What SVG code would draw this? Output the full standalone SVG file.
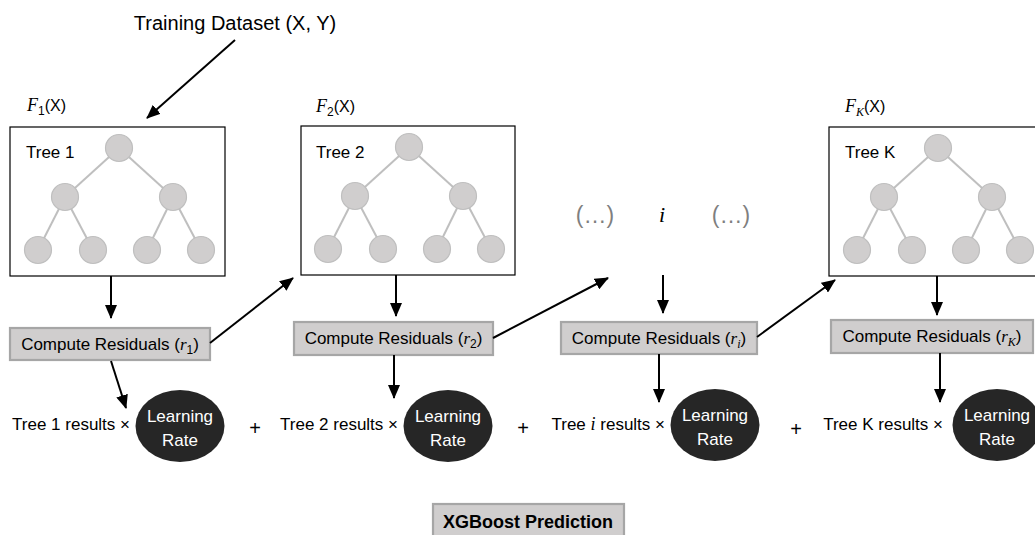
<svg xmlns="http://www.w3.org/2000/svg" xmlns:xlink="http://www.w3.org/1999/xlink" width="1035" height="535" viewBox="0 0 1035 535">
<style>
.t{font-family:"Liberation Sans",Arial,sans-serif;fill:#000}
.g{font-family:"Liberation Sans",Arial,sans-serif;fill:#7f7f7f;font-size:23px;text-anchor:middle}
.m{font-family:"Liberation Serif","Times New Roman",serif;font-style:italic}
.box{fill:#fff;stroke:#000;stroke-width:1.2}
.cr{fill:#d0cece;stroke:#a6a6a6;stroke-width:2.2}
.lr{fill:#262626}
.lrt{font-family:"Liberation Sans",Arial,sans-serif;fill:#fff;font-size:17px;text-anchor:middle}
.edge{stroke:#bfbfbf;stroke-width:2}
.nd{fill:#d0cece;stroke:#bfbfbf;stroke-width:1.2}
.ar{stroke:#000;stroke-width:2;fill:none;marker-end:url(#ah)}
.pl{font-family:"Liberation Sans",Arial,sans-serif;fill:#000;font-size:20px;text-anchor:middle}
</style>
<defs>
<marker id="ah" markerUnits="userSpaceOnUse" markerWidth="14" markerHeight="12" refX="13" refY="6" orient="auto">
<path d="M0,0 L14,6 L0,12 Z" fill="#000"/>
</marker>
<g id="treeShape">
<line class="edge" x1="109" y1="21" x2="55" y2="70"/>
<line class="edge" x1="109" y1="21" x2="163" y2="70"/>
<line class="edge" x1="55" y1="70" x2="28" y2="123"/>
<line class="edge" x1="55" y1="70" x2="83" y2="123"/>
<line class="edge" x1="163" y1="70" x2="137" y2="123"/>
<line class="edge" x1="163" y1="70" x2="191" y2="123"/>
<circle class="nd" cx="109" cy="21" r="13.5"/>
<circle class="nd" cx="55" cy="70" r="13.5"/>
<circle class="nd" cx="163" cy="70" r="13.5"/>
<circle class="nd" cx="28" cy="123" r="13.5"/>
<circle class="nd" cx="83" cy="123" r="13.5"/>
<circle class="nd" cx="137" cy="123" r="13.5"/>
<circle class="nd" cx="191" cy="123" r="13.5"/>
</g>
</defs>
<rect width="1035" height="535" fill="#fff"/>

<g id="title">
<text class="t" x="235" y="30" font-size="20" text-anchor="middle">Training Dataset (X, Y)</text>
</g>

<g id="tree1">
<text class="t" x="27" y="111" font-size="16"><tspan class="m" font-size="18">F</tspan><tspan font-size="12" dy="4">1</tspan><tspan dy="-4">(X)</tspan></text>
<rect class="box" x="10" y="127" width="215" height="149"/>
<use xlink:href="#treeShape" x="10" y="127"/>
<text class="t" x="26" y="158" font-size="17">Tree 1</text>
</g>

<g id="tree2">
<text class="t" x="316" y="112" font-size="16"><tspan class="m" font-size="18">F</tspan><tspan font-size="12" dy="4">2</tspan><tspan dy="-4">(X)</tspan></text>
<rect class="box" x="301" y="126" width="214" height="149"/>
<use xlink:href="#treeShape" x="300" y="126"/>
<text class="t" x="316" y="158" font-size="17">Tree 2</text>
</g>

<g id="treeI">
<text class="g" x="595" y="223">(…)</text>
<text class="m" x="662" y="222" font-size="22" text-anchor="middle">i</text>
<text class="g" x="731" y="223">(…)</text>
</g>

<g id="treeK">
<text class="t" x="845" y="112" font-size="16"><tspan class="m" font-size="18">F</tspan><tspan class="m" font-size="12" dy="4">K</tspan><tspan dy="-4">(X)</tspan></text>
<rect class="box" x="829" y="127" width="215" height="149"/>
<use xlink:href="#treeShape" x="829" y="127"/>
<text class="t" x="845" y="158" font-size="17">Tree K</text>
</g>

<g id="cr1">
<rect class="cr" x="10" y="328" width="200" height="32"/>
<text class="t" x="110" y="350" font-size="17" text-anchor="middle">Compute Residuals (<tspan class="m">r</tspan><tspan font-size="12" dy="4">1</tspan><tspan dy="-4">)</tspan></text>
</g>
<g id="cr2">
<rect class="cr" x="294" y="322" width="199" height="33"/>
<text class="t" x="393.5" y="344" font-size="17" text-anchor="middle">Compute Residuals (<tspan class="m">r</tspan><tspan font-size="12" dy="4">2</tspan><tspan dy="-4">)</tspan></text>
</g>
<g id="crI">
<rect class="cr" x="561" y="322" width="196" height="32"/>
<text class="t" x="659" y="344" font-size="17" text-anchor="middle">Compute Residuals (<tspan class="m">r</tspan><tspan class="m" font-size="12" dy="4">i</tspan><tspan dy="-4">)</tspan></text>
</g>
<g id="crK">
<rect class="cr" x="831" y="320" width="202" height="33"/>
<text class="t" x="932" y="342" font-size="17" text-anchor="middle">Compute Residuals (<tspan class="m">r</tspan><tspan class="m" font-size="12" dy="4">K</tspan><tspan dy="-4">)</tspan></text>
</g>

<g id="res1">
<text class="t" x="130" y="430" font-size="17" text-anchor="end">Tree 1 results ×</text>
<ellipse class="lr" cx="180" cy="426" rx="44.5" ry="36"/>
<text class="lrt" x="180" y="422">Learning</text>
<text class="lrt" x="180" y="446">Rate</text>
<text class="pl" x="255" y="435">+</text>
</g>
<g id="res2">
<text class="t" x="398" y="430" font-size="17" text-anchor="end">Tree 2 results ×</text>
<ellipse class="lr" cx="448" cy="426" rx="44.5" ry="36"/>
<text class="lrt" x="448" y="422">Learning</text>
<text class="lrt" x="448" y="446">Rate</text>
<text class="pl" x="523" y="435">+</text>
</g>
<g id="resI">
<text class="t" x="665" y="430" font-size="17" text-anchor="end">Tree <tspan class="m" font-size="18">i</tspan> results ×</text>
<ellipse class="lr" cx="715" cy="425" rx="44.5" ry="36"/>
<text class="lrt" x="715" y="421">Learning</text>
<text class="lrt" x="715" y="445">Rate</text>
<text class="pl" x="796" y="436">+</text>
</g>
<g id="resK">
<text class="t" x="943" y="430" font-size="17" text-anchor="end">Tree K results ×</text>
<ellipse class="lr" cx="997" cy="425" rx="44.5" ry="36"/>
<text class="lrt" x="997" y="421">Learning</text>
<text class="lrt" x="997" y="445">Rate</text>
</g>

<g id="prediction">
<rect class="cr" x="433" y="504" width="191" height="40"/>
<text class="t" x="528" y="528" font-size="18" font-weight="bold" text-anchor="middle">XGBoost Prediction</text>
</g>

<g id="connectors">
<line class="ar" x1="235" y1="40" x2="147" y2="118"/>
<line class="ar" x1="111" y1="276" x2="111" y2="318"/>
<line class="ar" x1="210" y1="343" x2="293" y2="278"/>
<line class="ar" x1="111" y1="361" x2="126" y2="408"/>
<line class="ar" x1="396" y1="275" x2="396" y2="316"/>
<line class="ar" x1="394" y1="355" x2="394" y2="398"/>
<line class="ar" x1="493" y1="338" x2="608" y2="278"/>
<line class="ar" x1="663" y1="275" x2="663" y2="313"/>
<line class="ar" x1="659" y1="354" x2="659" y2="402"/>
<line class="ar" x1="757" y1="337" x2="835" y2="280"/>
<line class="ar" x1="937" y1="276" x2="937" y2="315"/>
<line class="ar" x1="940" y1="353" x2="940" y2="402"/>
</g>
</svg>
